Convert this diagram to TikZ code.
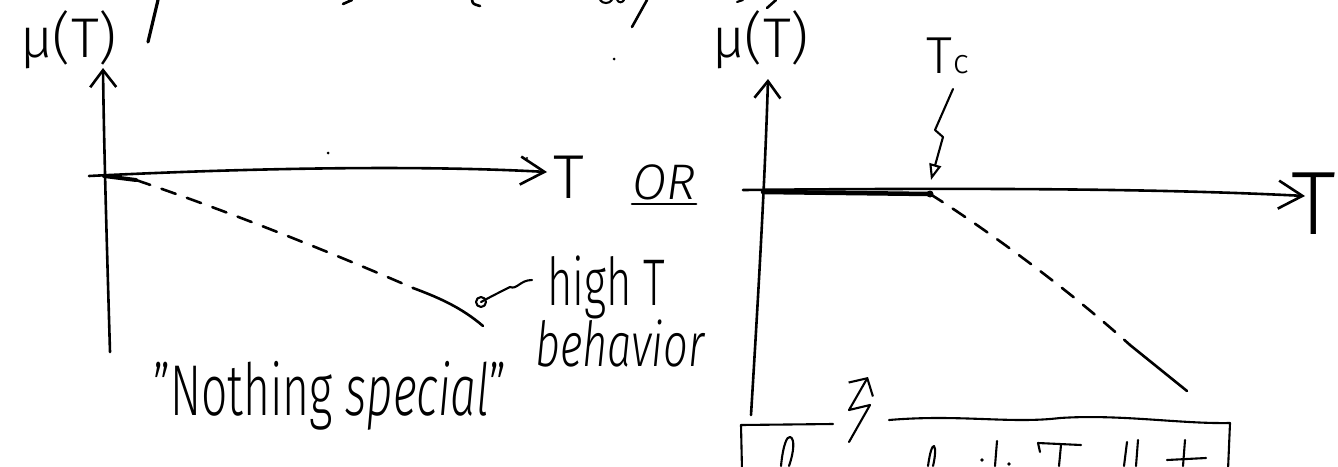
\documentclass[tikz,border=0pt]{standalone}
\usepackage{fontspec}
\setmainfont{Fira Sans Light}[ItalicFont={Fira Sans Light Italic}]
\usetikzlibrary{arrows.meta}
\newcommand{\hsz}[1]{\fontsize{#1}{#1}\selectfont}
\newcommand{\squeeze}[2]{\scalebox{#1}[1]{#2}}
\tikzset{
  ink/.style={line width=2.6pt, line cap=round, line join=round},
  thinink/.style={line width=2.1pt, line cap=round, line join=round},
  axisv/.style={ink, -{Straight Barb[length=17pt,width=26pt]}},
  axish/.style={ink, -{Straight Barb[length=24pt,width=28pt]}},
  dashcurve/.style={ink, dash pattern=on 15pt off 12pt},
  lbl/.style={inner sep=0pt, anchor=base west},
}
\begin{document}
\begin{tikzpicture}[x=1pt,y=-1pt]
\useasboundingbox[fill=white] (0,0) rectangle (1338,466);

% ---------- cut-off handwriting along the top edge ----------
\draw[ink, line width=3.2pt] (158,0) -- (148,42);
\draw[ink] (343,4) -- (352,0);
\draw[ink] (472,0) .. controls (473,4) .. (480,6);
\draw[thinink] (600,0) .. controls (603,4) and (609,4) .. (612,0);
\draw[thinink] (617,0) .. controls (619,3) and (622,3) .. (624,0);
\draw[ink] (647,0) -- (632,27);
\draw[thinink] (737,2) -- (743,0);
\draw[ink] (776,0) -- (767,8);
\fill (614,59) circle (1.5pt);
\fill (328,153) circle (1.5pt);
\fill (527,158) circle (1.2pt);

% ---------- left panel ----------
\coordinate (L-ybot) at (110,352);
\coordinate (L-ytop) at (103,68);
\coordinate (L-xstart) at (89,176);
\coordinate (L-xend) at (547,172);
\coordinate (L-o) at (104,176);
\coordinate (L-d1) at (136,180);
\coordinate (L-d2) at (413,288);
\coordinate (L-end) at (483,326);

\draw[axisv] (L-ybot) .. controls (107,250) and (104,150) .. (L-ytop);
\draw[axish] (L-xstart) .. controls (250,168) and (420,165) .. (L-xend);

\node[lbl] (L-mu) at (20,57) {\hsz{56}μ(T)};
\node[lbl] (L-T) at (553,198) {\hsz{62}T};
\node[lbl] (L-or) at (632,199) {\hsz{50}\itshape OR};
\draw[ink] ([yshift=-5pt]L-or.base west) -- ([yshift=-5pt]L-or.base east);

% low-T part, dashed continuation and high-T tail
\draw[ink, line width=4pt] (L-o) -- (L-d1);
\draw[dashcurve] (L-d1) .. controls (230,212) and (330,252) .. (L-d2);
\draw[ink] (L-d2) .. controls (440,298) and (462,308) .. (L-end);

\node[lbl] (L-high) at (547,305) {\hsz{66}\squeeze{0.66}{high T}};
\node[lbl] (L-beh) at (535,366) {\hsz{62}\itshape\squeeze{0.7}{behavior}};
\coordinate (H-from) at (532,280);
\coordinate (H-tip) at (481,302);
\draw[thinink] (H-from) .. controls (520,280) and (517,290) .. (510,287)
  .. controls (500,292) and (492,296) .. (H-tip);
\draw[thinink] (H-tip) circle (5pt);

\node[lbl] (L-nothing) at (153,415) {\hsz{72}\squeeze{0.64}{"Nothing \textit{special}"}};

% ---------- right panel ----------
\coordinate (R-ybot) at (751,415);
\coordinate (R-ytop) at (768,79);
\coordinate (R-xstart) at (743,190);
\coordinate (R-xend) at (1305,196);
\coordinate (R-o) at (763,192);
\coordinate (R-tc) at (930,194);
\coordinate (R-d2) at (1130,345);
\coordinate (R-end) at (1187,391);

\draw[axisv] (R-ybot) .. controls (758,300) and (765,180) .. (R-ytop);
\draw[axish] (R-xstart) .. controls (950,188) and (1150,188) .. (R-xend);

\node[lbl] (R-mu) at (712,57) {\hsz{56}μ(T)};
\node[lbl] (R-T) at (1291,234) {\hsz{90}T};
\node[lbl] (R-Tc) at (926,73) {\hsz{52}T\kern1pt{\hsz{34}c}};

\draw[ink, line width=4.5pt] (R-o) -- (R-tc);
\fill (R-tc) circle (3.5pt);
\draw[dashcurve] (R-tc) .. controls (975,222) and (1060,282) .. (R-d2);
\draw[ink] (R-d2) -- (R-end);

% zig-zag pointer from T_c to the axis
\coordinate (Z-a) at (953,89);
\coordinate (Z-b) at (935,130);
\coordinate (Z-c) at (943,137);
\coordinate (Z-d) at (931,180);
\draw[thinink, -{Triangle[open,length=16pt,width=12pt]}] (Z-a) -- (Z-b) -- (Z-c) -- (Z-d);

% ---------- boxed note at the bottom ----------
\coordinate (B-a) at (849,442);
\coordinate (B-b) at (870,405);
\coordinate (B-c) at (849,410);
\coordinate (B-d) at (868,377);
\draw[thinink, -{Straight Barb[length=13pt,width=28pt]}] (B-a) -- (B-b) -- (B-c) -- (B-d);

\coordinate (Bx-tl) at (741,425);
\coordinate (Bx-t1) at (833,424);
\coordinate (Bx-bl) at (742,470);
\coordinate (Bx-t2) at (889,420);
\coordinate (Bx-tr) at (1230,423);
\coordinate (Bx-br) at (1228,470);
\draw[thinink] (Bx-bl) -- (Bx-tl) -- (Bx-t1);
\draw[thinink] (Bx-t2) .. controls (960,414) and (1010,424) .. (1060,418)
  .. controls (1120,414) and (1180,424) .. (Bx-tr) -- (Bx-br);

% tops of the letters written inside the box
\draw[thinink] (781,466) .. controls (783,445) and (787,436) .. (790,437)
  .. controls (795,438) and (794,452) .. (789,466);
\draw[thinink] (928,466) .. controls (930,452) and (932,446) .. (934,446)
  .. controls (936,448) and (935,458) .. (933,466);
\fill (982,460) circle (1.8pt);
\draw[thinink] (997,441) -- (995,466);
\fill (1009,464) circle (1.8pt);
\draw[thinink] (1040,452) -- (1038,443) -- (1081,445);
\draw[thinink] (1061,445) -- (1059,466);
\draw[thinink] (1127,442) -- (1124,466);
\draw[thinink] (1138,440) -- (1136,466);
\draw[thinink] (1167,460) -- (1206,458);
\draw[thinink] (1185,440) -- (1183,466);
\end{tikzpicture}
\end{document}
